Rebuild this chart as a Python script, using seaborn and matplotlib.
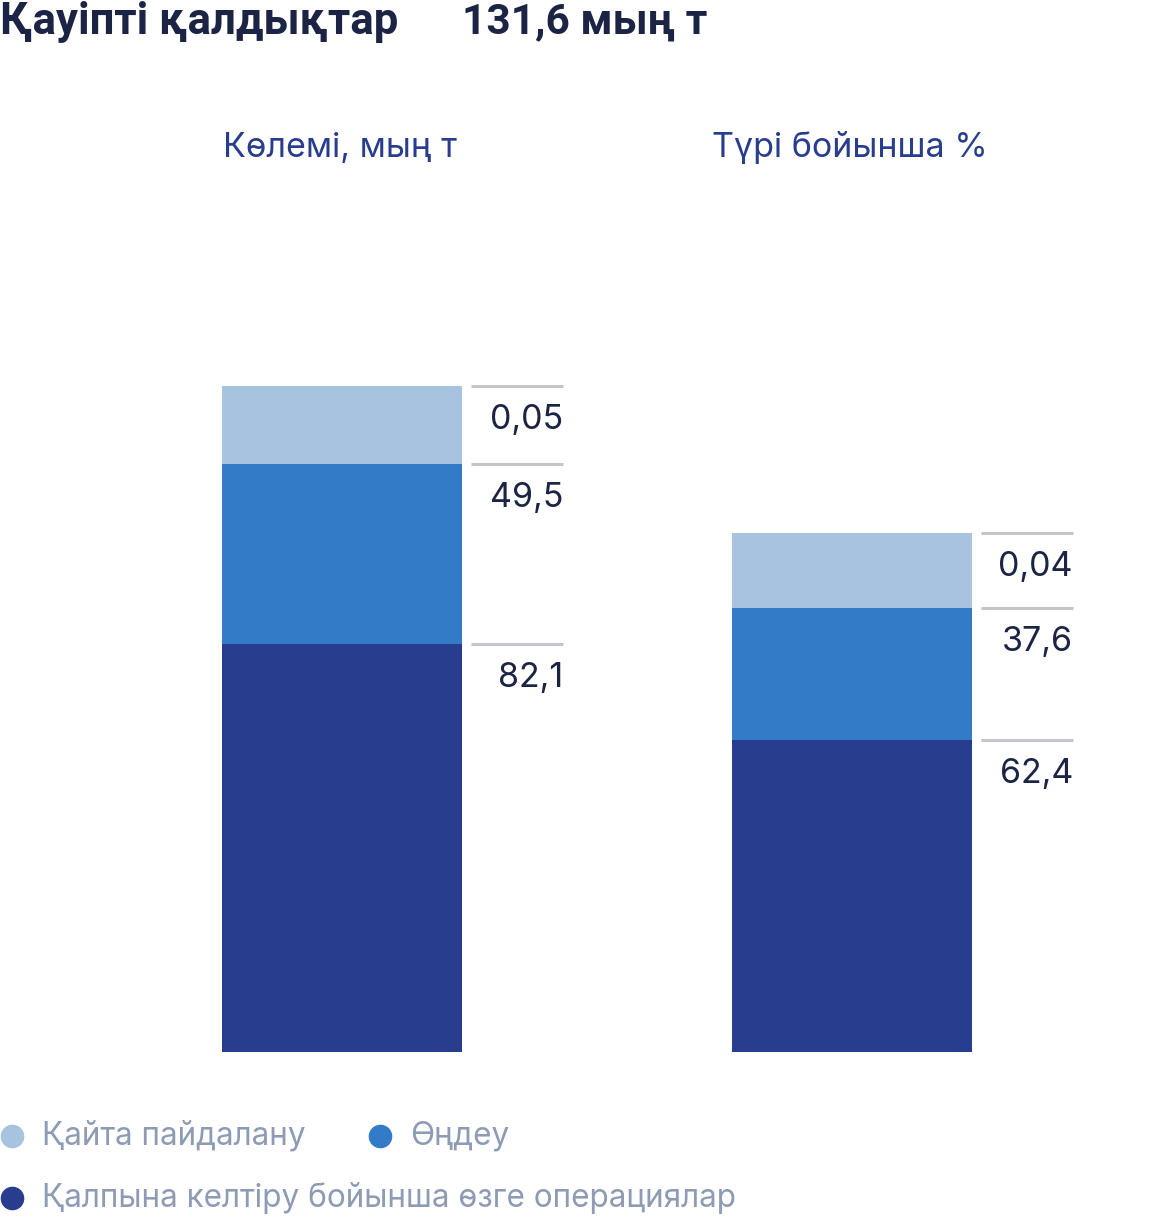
import matplotlib.pyplot as plt
import seaborn as sns
import numpy as np
from matplotlib.lines import Line2D

# --- DATA ---
groups = ["Көлемі, мың т", "Түрі бойынша %"]
series_names = ["Қайта пайдалану", "Өңдеу", "Қалпына келтіру бойынша өзге операциялар"]

# printed values (bottom -> top: recovery, processing, reuse)
recovery_vals = [82.1, 62.4]
processing_vals = [49.5, 37.6]
reuse_vals = [0.05, 0.04]

# segment sizes as drawn in the picture (chart units, not proportional to the values)
recovery_seg = [81.6, 62.4]
processing_seg = [36.0, 26.4]
reuse_seg = [15.6, 15.0]

title_left = "Қауіпті қалдықтар"
title_right = "131,6 мың т"

# --- STYLE ---
sns.set_theme(style="white")
plt.rcParams['font.family'] = ['Inter', 'DejaVu Sans']

C_LIGHT = "#a8c3df"
C_MID = "#337bc7"
C_DARK = "#283d8d"
C_TEXT = "#1b2444"
C_LEG = "#8d9bb4"
C_LINE = "#c4c4cc"

W, H = 1150, 1219
fig = plt.figure(figsize=(W / 100, H / 100), dpi=100)


def fx(px):
    return px / W


def fy(py):
    return 1 - py / H


# bars axis: baseline at y=1052 px, 5 px per unit, bar centres at 342 / 852 px
ax = fig.add_axes([0, fy(1052), 1, 1052 / H])
step = 510
ax.set_xlim(-342 / step, (W - 342) / step)
ax.set_ylim(0, 1052 / 5)
ax.axis('off')

xs = np.arange(len(groups))
bar_w = 240 / step
segs = [recovery_seg, processing_seg, reuse_seg]
vals = [recovery_vals, processing_vals, reuse_vals]
cols = [C_DARK, C_MID, C_LIGHT]

bottom = np.zeros(len(groups))
for seg, val, col in zip(segs, vals, cols):
    seg = np.array(seg)
    ax.bar(xs, seg, width=bar_w, bottom=bottom, color=col, linewidth=0)
    tops = bottom + seg
    for i in range(len(groups)):
        ax.plot([xs[i] + 129 / step, xs[i] + 221 / step], [tops[i], tops[i]],
                color=C_LINE, lw=2.2, solid_capstyle='butt')
        txt = f"{val[i]:g}".replace(".", ",")
        ax.annotate(txt, (xs[i] + 221 / step, tops[i]), xytext=(0, -34),
                    textcoords='offset pixels', ha='right', va='center',
                    fontsize=24.5, color=C_TEXT)
    bottom = tops

# group headers
for i, g in enumerate(groups):
    fig.text(fx(340 + i * step), fy(148), g, ha='center', va='center',
             fontsize=24.5, color=C_DARK)

# title
fig.text(fx(0), fy(22), title_left, ha='left', va='center', fontsize=31.5,
         fontweight='bold', color=C_TEXT, family=['Roboto', 'DejaVu Sans'])
fig.text(fx(462), fy(22), title_right, ha='left', va='center', fontsize=30.5,
         fontweight='bold', color=C_TEXT, family=['Roboto', 'DejaVu Sans'])

# legend
leg_pos = [(12, 1136), (380, 1136), (12, 1198)]
for name, col, (px, py) in zip(series_names, [C_LIGHT, C_MID, C_DARK], leg_pos):
    fig.add_artist(Line2D([fx(px)], [fy(py)], marker='o', markersize=16,
                          color=col, linestyle='none', transform=fig.transFigure))
    fig.text(fx(px + 30), fy(py), name, ha='left', va='center',
             fontsize=22.7, color=C_LEG)

fig.savefig("out.png", dpi=100)
